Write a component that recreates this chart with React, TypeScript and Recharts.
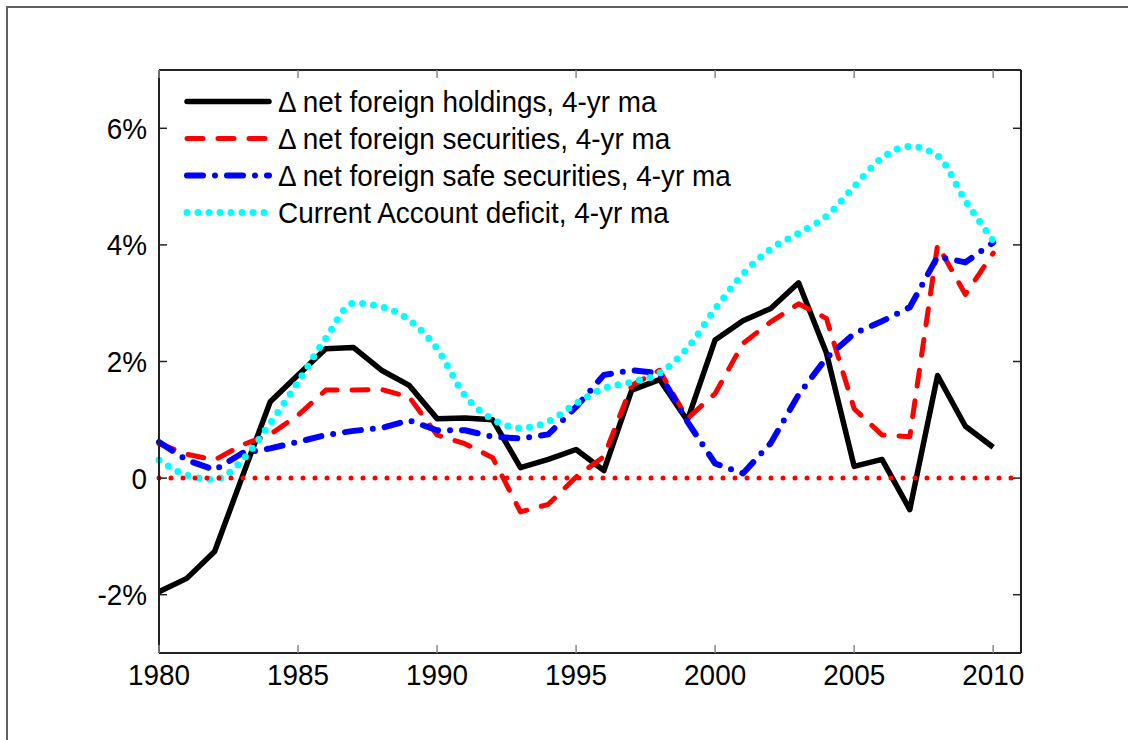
import { LineChart, Line, XAxis, YAxis, ReferenceLine, Legend } from "recharts";

const years = [
  1980, 1981, 1982, 1983, 1984, 1985, 1986, 1987, 1988, 1989, 1990, 1991, 1992, 1993, 1994, 1995,
  1996, 1997, 1998, 1999, 2000, 2001, 2002, 2003, 2004, 2005, 2006, 2007, 2008, 2009, 2010,
];

// all values in % of GDP
const holdings = [
  -1.95, -1.72, -1.26, 0.03, 1.31, 1.77, 2.22, 2.24, 1.85, 1.59, 1.02, 1.03, 1.0, 0.18, 0.32, 0.49,
  0.13, 1.51, 1.69, 0.99, 2.37, 2.7, 2.91, 3.35, 2.15, 0.2, 0.32, -0.54, 1.76, 0.89, 0.53,
];
const securities = [
  0.59, 0.41, 0.31, 0.57, 0.75, 1.08, 1.51, 1.51, 1.52, 1.39, 0.74, 0.59, 0.35, -0.58, -0.45, 0.02,
  0.37, 1.59, 1.85, 1.02, 1.45, 2.31, 2.68, 2.99, 2.74, 1.19, 0.74, 0.71, 4.0, 3.15, 3.86,
];
const safeSecurities = [
  0.62, 0.31, 0.14, 0.43, 0.51, 0.62, 0.74, 0.81, 0.86, 0.99, 0.82, 0.82, 0.71, 0.68, 0.75, 1.22,
  1.77, 1.85, 1.8, 0.97, 0.25, 0.08, 0.6, 1.43, 2.06, 2.48, 2.69, 2.93, 3.8, 3.7, 4.04,
];
const caDeficit = [
  0.31, 0.05, -0.02, 0.31, 0.94, 1.65, 2.4, 3.0, 2.94, 2.71, 2.22, 1.42, 1.01, 0.86, 0.97, 1.28,
  1.54, 1.65, 1.8, 2.23, 2.9, 3.5, 3.93, 4.2, 4.49, 5.0, 5.49, 5.69, 5.53, 4.76, 4.07,
];

const xTicks = [1980, 1985, 1990, 1995, 2000, 2005, 2010];
const yTicks = [-2, 0, 2, 4, 6];
const yLabels = ["-2%", "0", "2%", "4%", "6%"];

const data = years.map((year, i) => ({
  year,
  holdings: holdings[i],
  securities: securities[i],
  safe: safeSecurities[i],
  ca: caDeficit[i],
}));

const series = [
  { key: "holdings", name: "\u0394 net foreign holdings, 4-yr ma", color: "#000000", width: 5.5, dash: undefined, type: "linear" },
  { key: "securities", name: "\u0394 net foreign securities, 4-yr ma", color: "#ff0000", width: 5, dash: "16 15", type: "linear" },
  { key: "safe", name: "\u0394 net foreign safe securities, 4-yr ma", color: "#0000ff", width: 6, dash: "16 12 0 12", type: "linear" },
  { key: "ca", name: "Current Account deficit, 4-yr ma", color: "#00ffff", width: 7, dash: "0 11", type: "monotone" },
];

const font = "'Liberation Sans', Arial, sans-serif";
const TICK = 8;
const SQUEEZE = 0.93; // the original text is a bit narrow

// ticks point into the plot, labels sit outside
const XTick = (props: any) => {
  const { x, y, payload } = props;
  return (
    <g>
      <line x1={x} x2={x} y1={y} y2={y - TICK} stroke="#888" strokeWidth={1.5} />
      <text
        transform={`translate(${x},${y + 32}) scale(${SQUEEZE},1)`}
        textAnchor="middle"
        fontSize={30}
        fontFamily={font}
        fill="#000"
      >
        {payload.value}
      </text>
    </g>
  );
};

const XTopTick = (props: any) => {
  const { x, y } = props;
  return <line x1={x} x2={x} y1={y} y2={y + TICK} stroke="#888" strokeWidth={1.5} />;
};

const YTick = (props: any) => {
  const { x, y, payload } = props;
  const label = yLabels[yTicks.indexOf(payload.value)];
  return (
    <g>
      <line x1={x} x2={x + TICK} y1={y} y2={y} stroke="#222" strokeWidth={1.5} />
      <text
        transform={`translate(${x - 12},${y + 10.5}) scale(${SQUEEZE},1)`}
        textAnchor="end"
        fontSize={30}
        fontFamily={font}
        fill="#000"
      >
        {label}
      </text>
    </g>
  );
};

const YRightTick = (props: any) => {
  const { x, y } = props;
  return <line x1={x} x2={x - TICK} y1={y} y2={y} stroke="#222" strokeWidth={1.5} />;
};

const renderLegend = () => (
  <div style={{ fontFamily: font, fontSize: 30, color: "#000" }}>
    {series.map((s) => (
      <div key={s.key} style={{ display: "flex", alignItems: "center", height: 37 }}>
        <svg width={90} height={37}>
          <line
            x1={5}
            x2={87}
            y1={18.5}
            y2={18.5}
            stroke={s.color}
            strokeWidth={s.width}
            strokeDasharray={s.dash}
            strokeLinecap="round"
          />
        </svg>
        <span
          style={{
            marginLeft: 6,
            whiteSpace: "nowrap",
            display: "inline-block",
            transform: `scaleX(${SQUEEZE})`,
            transformOrigin: "left center",
          }}
        >
          {s.name}
        </span>
      </div>
    ))}
  </div>
);

export default function App() {
  return (
    <div style={{ position: "relative", width: 1128, height: 740, marginLeft: -8, marginTop: -8, background: "#fff" }}>
      <LineChart width={1128} height={740} data={data} margin={{ top: 69, right: 106, bottom: 37, left: 59 }}>
        <XAxis
          dataKey="year"
          type="number"
          domain={[1980, 2011]}
          ticks={xTicks}
          height={50}
          tickSize={0}
          tickMargin={0}
          tickLine={false}
          axisLine={{ stroke: "#222", strokeWidth: 2 }}
          tick={<XTick />}
          interval={0}
        />
        <XAxis
          xAxisId="top"
          orientation="top"
          dataKey="year"
          type="number"
          domain={[1980, 2011]}
          ticks={xTicks}
          height={1}
          tickSize={0}
          tickMargin={0}
          tickLine={false}
          axisLine={{ stroke: "#222", strokeWidth: 2 }}
          tick={<XTopTick />}
          interval={0}
        />
        <YAxis
          type="number"
          domain={[-3, 7]}
          ticks={yTicks}
          width={100}
          tickSize={0}
          tickMargin={0}
          tickLine={false}
          axisLine={{ stroke: "#222", strokeWidth: 2 }}
          tick={<YTick />}
          interval={0}
          allowDataOverflow
        />
        <YAxis
          yAxisId="right"
          orientation="right"
          type="number"
          domain={[-3, 7]}
          ticks={yTicks}
          width={1}
          tickSize={0}
          tickMargin={0}
          tickLine={false}
          axisLine={{ stroke: "#222", strokeWidth: 2 }}
          tick={<YRightTick />}
          interval={0}
          allowDataOverflow
        />
        <Legend
          layout="vertical"
          align="center"
          verticalAlign="middle"
          wrapperStyle={{ left: 182, top: 83, width: 620 }}
          content={renderLegend}
        />
        {series.map((s) => (
          <Line
            key={s.key}
            dataKey={s.key}
            name={s.name}
            type={s.type as any}
            stroke={s.color}
            strokeWidth={s.width}
            strokeDasharray={s.dash}
            strokeLinecap={s.dash ? "round" : "butt"}
            strokeLinejoin="round"
            dot={false}
            activeDot={false}
            isAnimationActive={false}
          />
        ))}
        <ReferenceLine y={0} stroke="#ff0000" strokeWidth={5} strokeDasharray="0 12" strokeLinecap="round" />
      </LineChart>
      {/* page frame of the exported figure; fixed so the root's clipping does not cut it */}
      <div
        style={{
          position: "fixed",
          left: 6,
          top: 6,
          width: 1140,
          height: 760,
          borderTop: "2px solid #606060",
          borderLeft: "2px solid #606060",
          pointerEvents: "none",
          zIndex: 5,
        }}
      />
    </div>
  );
}
